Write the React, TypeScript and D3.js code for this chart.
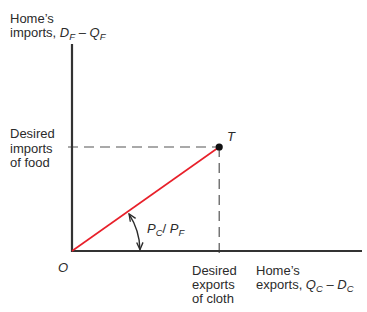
import React, { useEffect, useRef } from "react";
import * as d3 from "d3";

// trade point T in relative units (origin at 0,0)
const origin = { x: 0, y: 0 };
const tradePoint = { x: 1, y: 1 };
const xDomain = [0, 1.97];
const yDomain = [0, 1.99];
const yLabelLines = ["Desired", "imports", "of food"];
const xLabelLines = ["Desired", "exports", "of cloth"];

const App = () => {
  const ref = useRef<SVGSVGElement>(null);

  useEffect(() => {
    const svg = d3.select(ref.current);
    svg.selectAll("*").remove();

    const font = "'Liberation Sans', Arial, sans-serif";
    const ink = "#2b2b2b";
    const x = d3.scaleLinear().domain(xDomain).range([72, 362]);
    const y = d3.scaleLinear().domain(yDomain).range([251, 44]);

    const defs = svg.append("defs");
    defs
      .append("marker")
      .attr("id", "arr")
      .attr("viewBox", "0 0 10 10")
      .attr("refX", 9)
      .attr("refY", 5)
      .attr("markerWidth", 9)
      .attr("markerHeight", 9)
      .attr("markerUnits", "userSpaceOnUse")
      .attr("orient", "auto-start-reverse")
      .append("path")
      .attr("d", "M1,1.5 L9,5 L1,8.5")
      .attr("fill", "none")
      .attr("stroke", ink)
      .attr("stroke-width", 1.5);

    // dashed guides
    svg
      .append("line")
      .attr("x1", x(origin.x) - 4)
      .attr("x2", x(tradePoint.x))
      .attr("y1", y(tradePoint.y))
      .attr("y2", y(tradePoint.y))
      .attr("stroke", "#555")
      .attr("stroke-width", 1.2)
      .attr("stroke-dasharray", "10,6");
    svg
      .append("line")
      .attr("x1", x(tradePoint.x))
      .attr("x2", x(tradePoint.x))
      .attr("y1", y(tradePoint.y))
      .attr("y2", y(origin.y) + 5)
      .attr("stroke", "#555")
      .attr("stroke-width", 1.2)
      .attr("stroke-dasharray", "10,6");

    // axes
    svg
      .append("path")
      .attr("d", `M${x(0)},${y(yDomain[1])} L${x(0)},${y(0)} L${x(xDomain[1])},${y(0)}`)
      .attr("fill", "none")
      .attr("stroke", "#333")
      .attr("stroke-width", 2.2);

    // trade line
    svg
      .append("line")
      .attr("x1", x(origin.x))
      .attr("y1", y(origin.y))
      .attr("x2", x(tradePoint.x))
      .attr("y2", y(tradePoint.y))
      .attr("stroke", "#e8202a")
      .attr("stroke-width", 1.6);

    svg
      .append("circle")
      .attr("cx", x(tradePoint.x))
      .attr("cy", y(tradePoint.y))
      .attr("r", 3.6)
      .attr("fill", "#111");

    // angle arc
    const ang = Math.atan2(y(origin.y) - y(tradePoint.y), x(tradePoint.x) - x(origin.x));
    const r = 68;
    const arcPath = d3.path();
    arcPath.arc(x(0), y(0), r, -ang + 0.04, -0.02, false);
    svg
      .append("path")
      .attr("d", arcPath.toString())
      .attr("fill", "none")
      .attr("stroke", ink)
      .attr("stroke-width", 1.4)
      .attr("marker-start", "url(#arr)")
      .attr("marker-end", "url(#arr)");

    const txt = (tx: number, ty: number) =>
      svg
        .append("text")
        .attr("x", tx)
        .attr("y", ty)
        .attr("font-family", font)
        .attr("font-size", 13)
        .attr("fill", ink);

    // ratio label
    const lab = txt(147, 233);
    lab.append("tspan").attr("font-style", "italic").text("P");
    lab.append("tspan").attr("font-style", "italic").attr("font-size", 9.5).attr("dy", 3).text("C");
    lab.append("tspan").attr("dy", -3).text("/ ");
    lab.append("tspan").attr("font-style", "italic").text("P");
    lab.append("tspan").attr("font-style", "italic").attr("font-size", 9.5).attr("dy", 3).text("F");

    // y-axis title
    txt(10, 23).text("Home\u2019s");
    const yt = txt(10, 37);
    yt.append("tspan").text("imports, ");
    yt.append("tspan").attr("font-style", "italic").text("D");
    yt.append("tspan").attr("font-style", "italic").attr("font-size", 9.5).attr("dy", 3).text("F");
    yt.append("tspan").attr("dy", -3).text(" \u2013 ");
    yt.append("tspan").attr("font-style", "italic").text("Q");
    yt.append("tspan").attr("font-style", "italic").attr("font-size", 9.5).attr("dy", 3).text("F");

    yLabelLines.forEach((s, i) => txt(10, 138 + i * 14.5).text(s));
    xLabelLines.forEach((s, i) => txt(192, 275 + i * 14).text(s));

    txt(256, 275).text("Home\u2019s");
    const xt = txt(256, 289);
    xt.append("tspan").text("exports, ");
    xt.append("tspan").attr("font-style", "italic").text("Q");
    xt.append("tspan").attr("font-style", "italic").attr("font-size", 9.5).attr("dy", 3).text("C");
    xt.append("tspan").attr("dy", -3).text(" \u2013 ");
    xt.append("tspan").attr("font-style", "italic").text("D");
    xt.append("tspan").attr("font-style", "italic").attr("font-size", 9.5).attr("dy", 3).text("C");

    txt(58, 272).attr("font-style", "italic").text("O");
    txt(227, 141).attr("font-style", "italic").text("T");
  }, []);

  return (
    <svg
      ref={ref}
      width={367}
      height={312}
      style={{ position: "absolute", left: 0, top: 0, background: "#fff" }}
    />
  );
};

export default App;
